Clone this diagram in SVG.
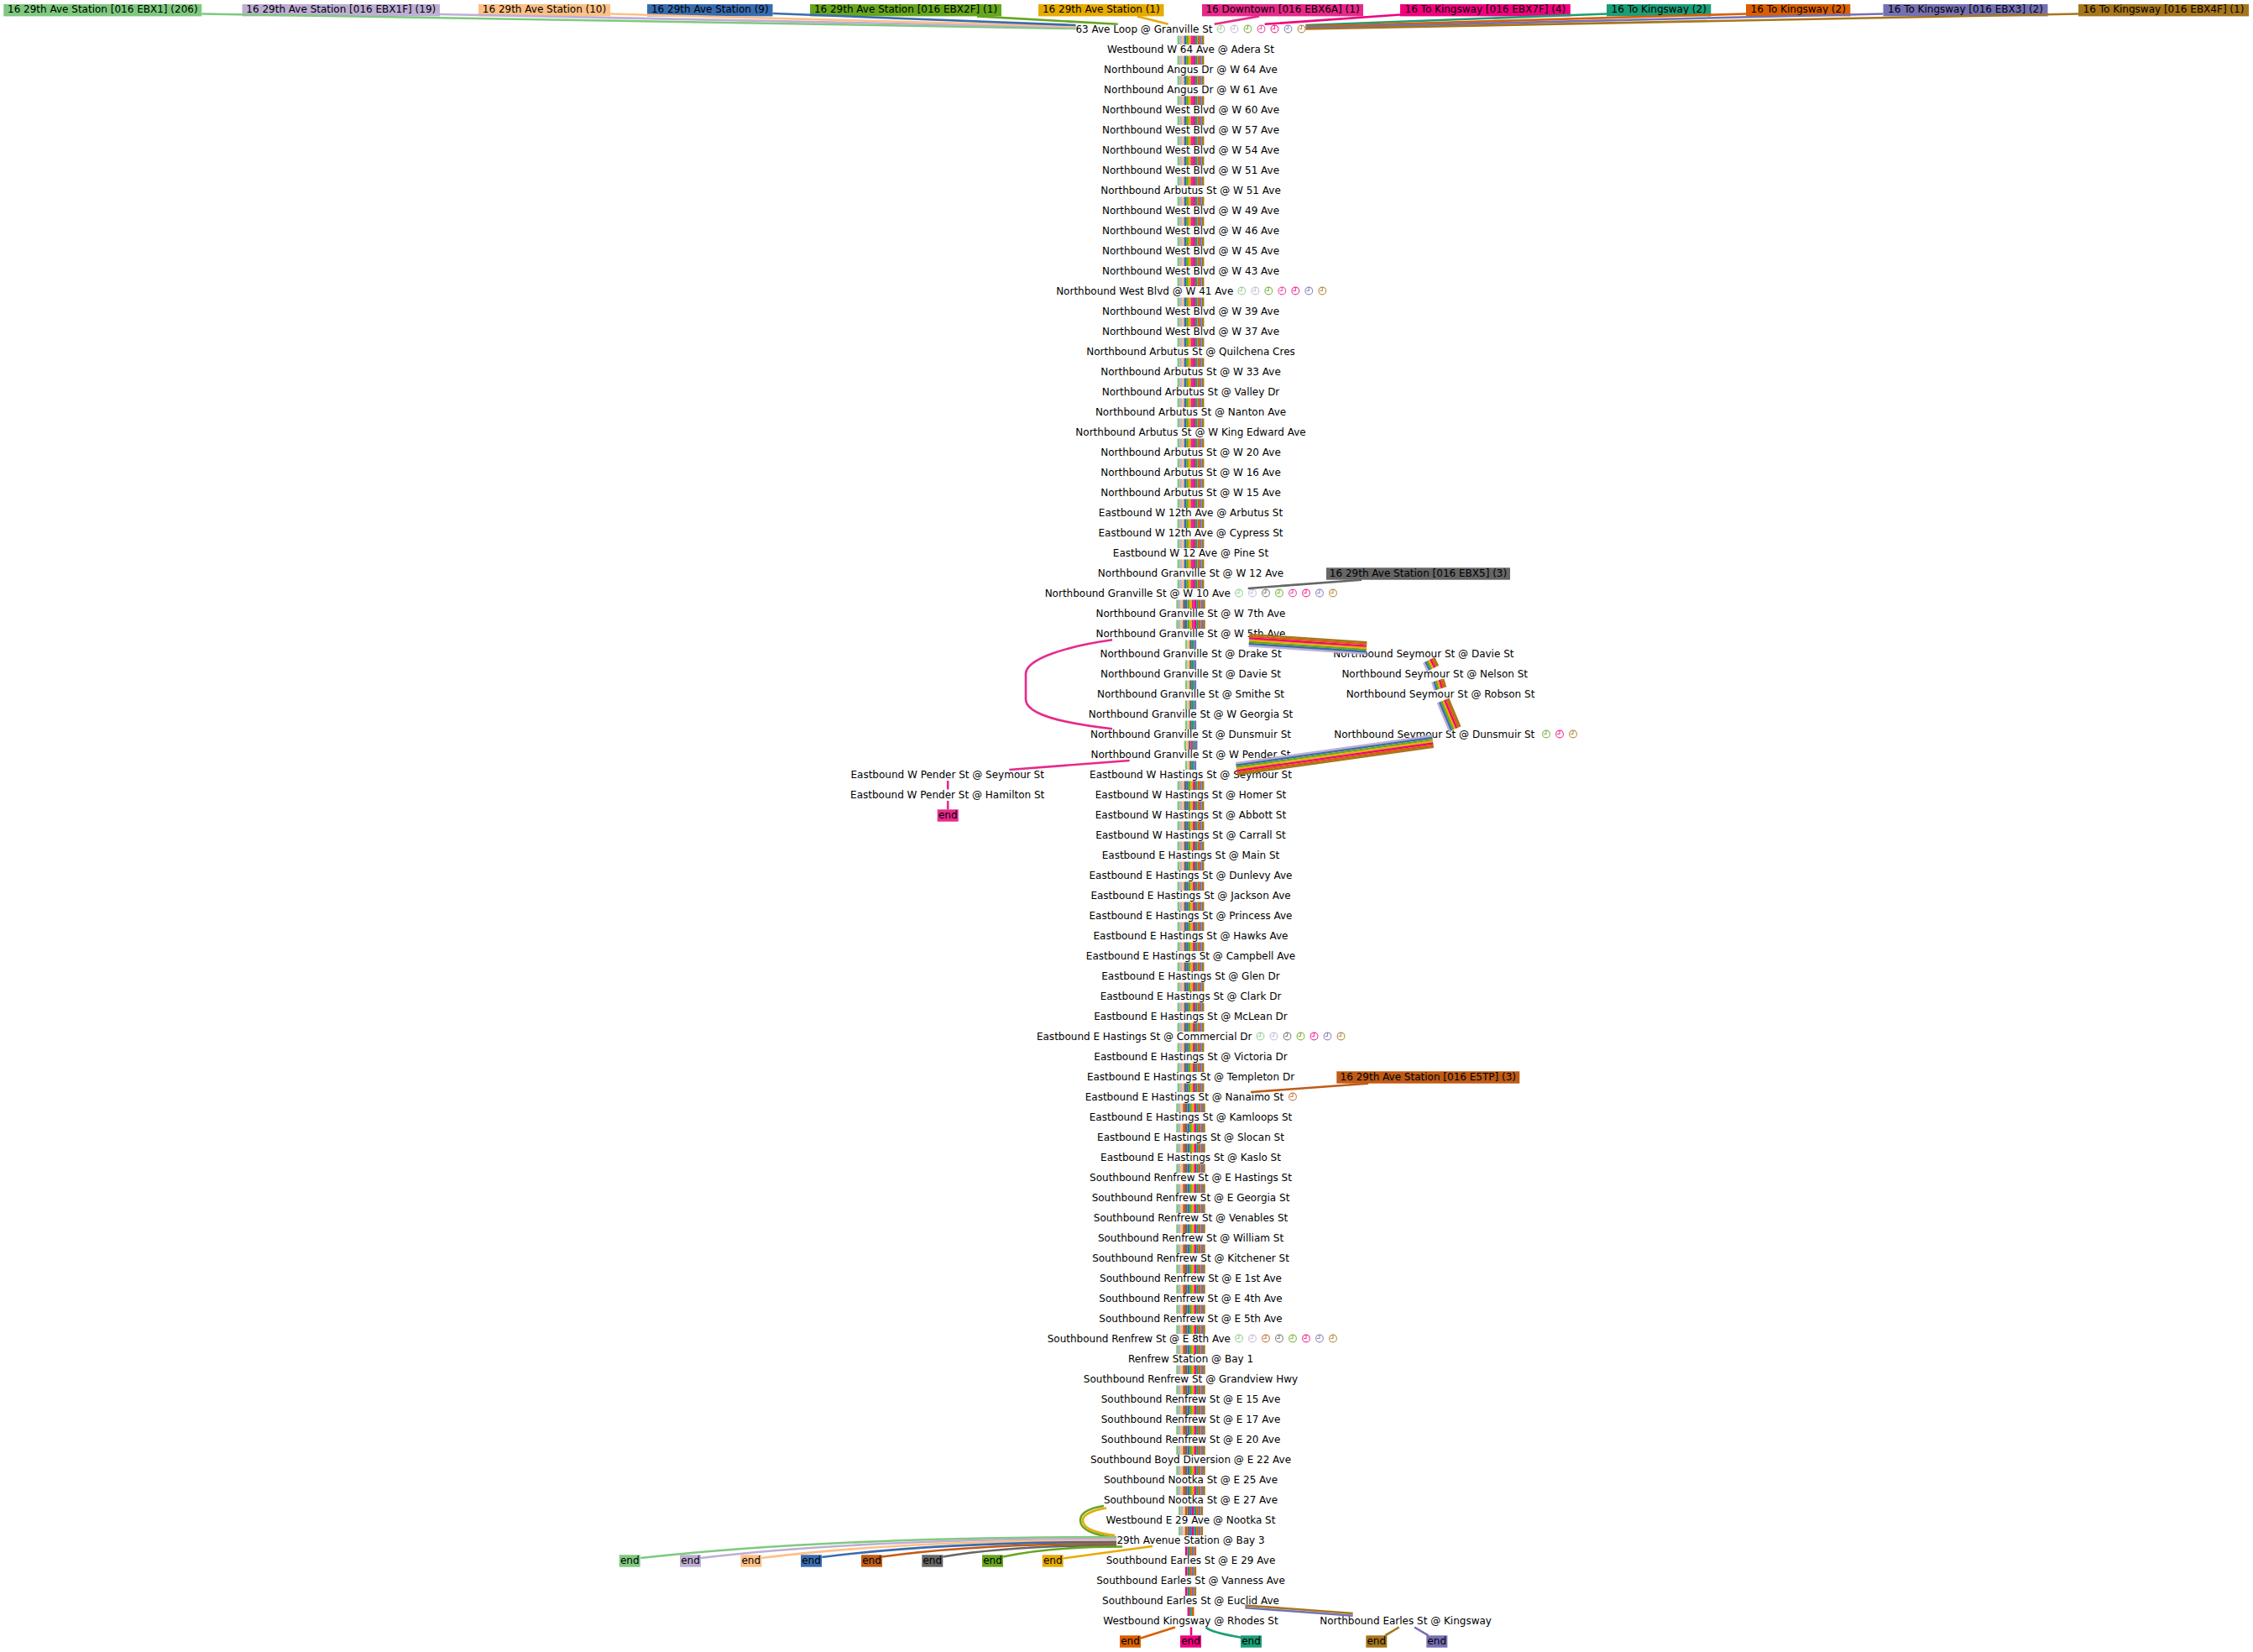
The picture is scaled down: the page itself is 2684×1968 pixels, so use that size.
<svg xmlns="http://www.w3.org/2000/svg" width="2684" height="1968" viewBox="0 0 2684 1968">
<defs>
<style>
.t{font-family:"DejaVu Sans","Liberation Sans",sans-serif;font-size:12px;fill:#000}
.m{text-anchor:middle}.e{text-anchor:end}
.c{fill:none;stroke-width:2.6}
.tr{stroke-width:2.65;stroke-dasharray:10.5 13.5}
.dg{stroke-width:2.4}
.hl{stroke-width:3}
.sa{stroke:#7fc97f}.sb{stroke:#beaed4}.sc{stroke:#fdc086}.sd{stroke:#386cb0}.se{stroke:#66a61e}.sf{stroke:#e6ab02}.sg{stroke:#e7298a}.sh{stroke:#f0027f}.si{stroke:#1b9e77}.sj{stroke:#d95f02}.sk{stroke:#7570b3}.sl{stroke:#a6761d}.sm{stroke:#666666}.sn{stroke:#bf5b17}
.fa{fill:#7fc97f}.fb{fill:#beaed4}.fc{fill:#fdc086}.fd{fill:#386cb0}.fe{fill:#66a61e}.ff{fill:#e6ab02}.fg{fill:#e7298a}.fh{fill:#f0027f}.fi{fill:#1b9e77}.fj{fill:#d95f02}.fk{fill:#7570b3}.fl{fill:#a6761d}.fm{fill:#666666}.fn{fill:#bf5b17}
.ka{color:#7fc97f}.kb{color:#beaed4}.ke{color:#66a61e}.kg{color:#e7298a}.kh{color:#f0027f}.kk{color:#7570b3}.kl{color:#a6761d}.km{color:#666666}.kn{color:#bf5b17}
.ic{opacity:.8}
</style>
<g id="ck" fill="none" stroke="currentColor" stroke-width="1.1"><circle r="4.4"/><path d="M0,-4.4V0H-3"/></g>
</defs>
<rect width="2684" height="1968" fill="#fff"/>

<g id="sources">
<g id="src-ebx1"><rect class="fa" x="4.3" y="5" width="236" height="14.4"/><text class="t m" x="122.3" y="15.2">16 29th Ave Station [016 EBX1] (206)</text></g>
<g id="src-ebx1f"><rect class="fb" x="288.5" y="5" width="235.5" height="14.4"/><text class="t m" x="406.3" y="15.2">16 29th Ave Station [016 EBX1F] (19)</text></g>
<g id="src-r10"><rect class="fc" x="570" y="5" width="157" height="14.4"/><text class="t m" x="648.5" y="15.2">16 29th Ave Station (10)</text></g>
<g id="src-r9"><rect class="fd" x="771" y="5" width="149.5" height="14.4"/><text class="t m" x="845.8" y="15.2">16 29th Ave Station (9)</text></g>
<g id="src-ebx2f"><rect class="fe" x="965" y="5" width="228" height="14.4"/><text class="t m" x="1079" y="15.2">16 29th Ave Station [016 EBX2F] (1)</text></g>
<g id="src-r1"><rect class="ff" x="1237" y="5" width="149.5" height="14.4"/><text class="t m" x="1311.8" y="15.2">16 29th Ave Station (1)</text></g>
<g id="src-ebx6a"><rect class="fg" x="1432" y="5" width="192" height="14.4"/><text class="t m" x="1528" y="15.2">16 Downtown [016 EBX6A] (1)</text></g>
<g id="src-ebx7f"><rect class="fh" x="1668" y="5" width="202.8" height="14.4"/><text class="t m" x="1769.4" y="15.2">16 To Kingsway [016 EBX7F] (4)</text></g>
<g id="src-t2"><rect class="fi" x="1914" y="5" width="124.3" height="14.4"/><text class="t m" x="1976.2" y="15.2">16 To Kingsway (2)</text></g>
<g id="src-o2"><rect class="fj" x="2080" y="5" width="124.3" height="14.4"/><text class="t m" x="2142.2" y="15.2">16 To Kingsway (2)</text></g>
<g id="src-ebx3"><rect class="fk" x="2243.5" y="5" width="196" height="14.4"/><text class="t m" x="2341.5" y="15.2">16 To Kingsway [016 EBX3] (2)</text></g>
<g id="src-ebx4f"><rect class="fl" x="2476" y="5" width="203" height="14.4"/><text class="t m" x="2577.5" y="15.2">16 To Kingsway [016 EBX4F] (1)</text></g>
<g id="src-ebx5"><rect class="fm" x="1580" y="676.3" width="219" height="14.4"/><text class="t m" x="1689.5" y="686.5">16 29th Ave Station [016 EBX5] (3)</text></g>
<g id="src-e5tp"><rect class="fn" x="1592.3" y="1276.3" width="218" height="14.4"/><text class="t m" x="1701.3" y="1286.5">16 29th Ave Station [016 E5TP] (3)</text></g>
</g>

<g id="stops">
<g id="stop-00"><text class="t e" x="1444.5" y="38.5">63 Ave Loop @ Granville St</text><use href="#ck" x="1454.5" y="34.5" class="ka ic"/><use href="#ck" x="1470.5" y="34.5" class="kb ic"/><use href="#ck" x="1486.5" y="34.5" class="ke ic"/><use href="#ck" x="1502.5" y="34.5" class="kg ic"/><use href="#ck" x="1518.5" y="34.5" class="kh ic"/><use href="#ck" x="1534.5" y="34.5" class="kk ic"/><use href="#ck" x="1550.5" y="34.5" class="kl ic"/></g>
<g id="stop-01"><text class="t m" x="1418.5" y="62.5">Westbound W 64 Ave @ Adera St</text></g>
<g id="stop-02"><text class="t m" x="1418.5" y="86.5">Northbound Angus Dr @ W 64 Ave</text></g>
<g id="stop-03"><text class="t m" x="1418.5" y="110.5">Northbound Angus Dr @ W 61 Ave</text></g>
<g id="stop-04"><text class="t m" x="1418.5" y="134.5">Northbound West Blvd @ W 60 Ave</text></g>
<g id="stop-05"><text class="t m" x="1418.5" y="158.5">Northbound West Blvd @ W 57 Ave</text></g>
<g id="stop-06"><text class="t m" x="1418.5" y="182.5">Northbound West Blvd @ W 54 Ave</text></g>
<g id="stop-07"><text class="t m" x="1418.5" y="206.5">Northbound West Blvd @ W 51 Ave</text></g>
<g id="stop-08"><text class="t m" x="1418.5" y="230.5">Northbound Arbutus St @ W 51 Ave</text></g>
<g id="stop-09"><text class="t m" x="1418.5" y="254.5">Northbound West Blvd @ W 49 Ave</text></g>
<g id="stop-10"><text class="t m" x="1418.5" y="278.5">Northbound West Blvd @ W 46 Ave</text></g>
<g id="stop-11"><text class="t m" x="1418.5" y="302.5">Northbound West Blvd @ W 45 Ave</text></g>
<g id="stop-12"><text class="t m" x="1418.5" y="326.5">Northbound West Blvd @ W 43 Ave</text></g>
<g id="stop-13"><text class="t e" x="1469.3" y="350.5">Northbound West Blvd @ W 41 Ave</text><use href="#ck" x="1479.3" y="346.5" class="ka ic"/><use href="#ck" x="1495.3" y="346.5" class="kb ic"/><use href="#ck" x="1511.3" y="346.5" class="ke ic"/><use href="#ck" x="1527.3" y="346.5" class="kg ic"/><use href="#ck" x="1543.3" y="346.5" class="kh ic"/><use href="#ck" x="1559.3" y="346.5" class="kk ic"/><use href="#ck" x="1575.3" y="346.5" class="kl ic"/></g>
<g id="stop-14"><text class="t m" x="1418.5" y="374.5">Northbound West Blvd @ W 39 Ave</text></g>
<g id="stop-15"><text class="t m" x="1418.5" y="398.5">Northbound West Blvd @ W 37 Ave</text></g>
<g id="stop-16"><text class="t m" x="1418.5" y="422.5">Northbound Arbutus St @ Quilchena Cres</text></g>
<g id="stop-17"><text class="t m" x="1418.5" y="446.5">Northbound Arbutus St @ W 33 Ave</text></g>
<g id="stop-18"><text class="t m" x="1418.5" y="470.5">Northbound Arbutus St @ Valley Dr</text></g>
<g id="stop-19"><text class="t m" x="1418.5" y="494.5">Northbound Arbutus St @ Nanton Ave</text></g>
<g id="stop-20"><text class="t m" x="1418.5" y="518.5">Northbound Arbutus St @ W King Edward Ave</text></g>
<g id="stop-21"><text class="t m" x="1418.5" y="542.5">Northbound Arbutus St @ W 20 Ave</text></g>
<g id="stop-22"><text class="t m" x="1418.5" y="566.5">Northbound Arbutus St @ W 16 Ave</text></g>
<g id="stop-23"><text class="t m" x="1418.5" y="590.5">Northbound Arbutus St @ W 15 Ave</text></g>
<g id="stop-24"><text class="t m" x="1418.5" y="614.5">Eastbound W 12th Ave @ Arbutus St</text></g>
<g id="stop-25"><text class="t m" x="1418.5" y="638.5">Eastbound W 12th Ave @ Cypress St</text></g>
<g id="stop-26"><text class="t m" x="1418.5" y="662.5">Eastbound W 12 Ave @ Pine St</text></g>
<g id="stop-27"><text class="t m" x="1418.5" y="686.5">Northbound Granville St @ W 12 Ave</text></g>
<g id="stop-28"><text class="t e" x="1466" y="710.5">Northbound Granville St @ W 10 Ave</text><use href="#ck" x="1476" y="706.5" class="ka ic"/><use href="#ck" x="1492" y="706.5" class="kb ic"/><use href="#ck" x="1508" y="706.5" class="km ic"/><use href="#ck" x="1524" y="706.5" class="ke ic"/><use href="#ck" x="1540" y="706.5" class="kg ic"/><use href="#ck" x="1556" y="706.5" class="kh ic"/><use href="#ck" x="1572" y="706.5" class="kk ic"/><use href="#ck" x="1588" y="706.5" class="kl ic"/></g>
<g id="stop-29"><text class="t m" x="1418.5" y="734.5">Northbound Granville St @ W 7th Ave</text></g>
<g id="stop-30"><text class="t m" x="1418.5" y="758.5">Northbound Granville St @ W 5th Ave</text></g>
<g id="stop-31"><text class="t m" x="1418.5" y="782.5">Northbound Granville St @ Drake St</text></g>
<g id="stop-32"><text class="t m" x="1418.5" y="806.5">Northbound Granville St @ Davie St</text></g>
<g id="stop-33"><text class="t m" x="1418.5" y="830.5">Northbound Granville St @ Smithe St</text></g>
<g id="stop-34"><text class="t m" x="1418.5" y="854.5">Northbound Granville St @ W Georgia St</text></g>
<g id="stop-35"><text class="t m" x="1418.5" y="878.5">Northbound Granville St @ Dunsmuir St</text></g>
<g id="stop-36"><text class="t m" x="1418.5" y="902.5">Northbound Granville St @ W Pender St</text></g>
<g id="stop-37"><text class="t m" x="1418.5" y="926.5">Eastbound W Hastings St @ Seymour St</text></g>
<g id="stop-38"><text class="t m" x="1418.5" y="950.5">Eastbound W Hastings St @ Homer St</text></g>
<g id="stop-39"><text class="t m" x="1418.5" y="974.5">Eastbound W Hastings St @ Abbott St</text></g>
<g id="stop-40"><text class="t m" x="1418.5" y="998.5">Eastbound W Hastings St @ Carrall St</text></g>
<g id="stop-41"><text class="t m" x="1418.5" y="1022.5">Eastbound E Hastings St @ Main St</text></g>
<g id="stop-42"><text class="t m" x="1418.5" y="1046.5">Eastbound E Hastings St @ Dunlevy Ave</text></g>
<g id="stop-43"><text class="t m" x="1418.5" y="1070.5">Eastbound E Hastings St @ Jackson Ave</text></g>
<g id="stop-44"><text class="t m" x="1418.5" y="1094.5">Eastbound E Hastings St @ Princess Ave</text></g>
<g id="stop-45"><text class="t m" x="1418.5" y="1118.5">Eastbound E Hastings St @ Hawks Ave</text></g>
<g id="stop-46"><text class="t m" x="1418.5" y="1142.5">Eastbound E Hastings St @ Campbell Ave</text></g>
<g id="stop-47"><text class="t m" x="1418.5" y="1166.5">Eastbound E Hastings St @ Glen Dr</text></g>
<g id="stop-48"><text class="t m" x="1418.5" y="1190.5">Eastbound E Hastings St @ Clark Dr</text></g>
<g id="stop-49"><text class="t m" x="1418.5" y="1214.5">Eastbound E Hastings St @ McLean Dr</text></g>
<g id="stop-50"><text class="t e" x="1491.5" y="1238.5">Eastbound E Hastings St @ Commercial Dr</text><use href="#ck" x="1501.5" y="1234.5" class="ka ic"/><use href="#ck" x="1517.5" y="1234.5" class="kb ic"/><use href="#ck" x="1533.5" y="1234.5" class="km ic"/><use href="#ck" x="1549.5" y="1234.5" class="ke ic"/><use href="#ck" x="1565.5" y="1234.5" class="kh ic"/><use href="#ck" x="1581.5" y="1234.5" class="kk ic"/><use href="#ck" x="1597.5" y="1234.5" class="kl ic"/></g>
<g id="stop-51"><text class="t m" x="1418.5" y="1262.5">Eastbound E Hastings St @ Victoria Dr</text></g>
<g id="stop-52"><text class="t m" x="1418.5" y="1286.5">Eastbound E Hastings St @ Templeton Dr</text></g>
<g id="stop-53"><text class="t e" x="1529.3" y="1310.5">Eastbound E Hastings St @ Nanaimo St</text><use href="#ck" x="1540" y="1306.5" class="kn ic"/></g>
<g id="stop-54"><text class="t m" x="1418.5" y="1334.5">Eastbound E Hastings St @ Kamloops St</text></g>
<g id="stop-55"><text class="t m" x="1418.5" y="1358.5">Eastbound E Hastings St @ Slocan St</text></g>
<g id="stop-56"><text class="t m" x="1418.5" y="1382.5">Eastbound E Hastings St @ Kaslo St</text></g>
<g id="stop-57"><text class="t m" x="1418.5" y="1406.5">Southbound Renfrew St @ E Hastings St</text></g>
<g id="stop-58"><text class="t m" x="1418.5" y="1430.5">Southbound Renfrew St @ E Georgia St</text></g>
<g id="stop-59"><text class="t m" x="1418.5" y="1454.5">Southbound Renfrew St @ Venables St</text></g>
<g id="stop-60"><text class="t m" x="1418.5" y="1478.5">Southbound Renfrew St @ William St</text></g>
<g id="stop-61"><text class="t m" x="1418.5" y="1502.5">Southbound Renfrew St @ Kitchener St</text></g>
<g id="stop-62"><text class="t m" x="1418.5" y="1526.5">Southbound Renfrew St @ E 1st Ave</text></g>
<g id="stop-63"><text class="t m" x="1418.5" y="1550.5">Southbound Renfrew St @ E 4th Ave</text></g>
<g id="stop-64"><text class="t m" x="1418.5" y="1574.5">Southbound Renfrew St @ E 5th Ave</text></g>
<g id="stop-65"><text class="t e" x="1466" y="1598.5">Southbound Renfrew St @ E 8th Ave</text><use href="#ck" x="1476" y="1594.5" class="ka ic"/><use href="#ck" x="1492" y="1594.5" class="kb ic"/><use href="#ck" x="1508" y="1594.5" class="kn ic"/><use href="#ck" x="1524" y="1594.5" class="km ic"/><use href="#ck" x="1540" y="1594.5" class="ke ic"/><use href="#ck" x="1556" y="1594.5" class="kh ic"/><use href="#ck" x="1572" y="1594.5" class="kk ic"/><use href="#ck" x="1588" y="1594.5" class="kl ic"/></g>
<g id="stop-66"><text class="t m" x="1418.5" y="1622.5">Renfrew Station @ Bay 1</text></g>
<g id="stop-67"><text class="t m" x="1418.5" y="1646.5">Southbound Renfrew St @ Grandview Hwy</text></g>
<g id="stop-68"><text class="t m" x="1418.5" y="1670.5">Southbound Renfrew St @ E 15 Ave</text></g>
<g id="stop-69"><text class="t m" x="1418.5" y="1694.5">Southbound Renfrew St @ E 17 Ave</text></g>
<g id="stop-70"><text class="t m" x="1418.5" y="1718.5">Southbound Renfrew St @ E 20 Ave</text></g>
<g id="stop-71"><text class="t m" x="1418.5" y="1742.5">Southbound Boyd Diversion @ E 22 Ave</text></g>
<g id="stop-72"><text class="t m" x="1418.5" y="1766.5">Southbound Nootka St @ E 25 Ave</text></g>
<g id="stop-73"><text class="t m" x="1418.5" y="1790.5">Southbound Nootka St @ E 27 Ave</text></g>
<g id="stop-74"><text class="t m" x="1418.5" y="1814.5">Westbound E 29 Ave @ Nootka St</text></g>
<g id="stop-75"><text class="t m" x="1418.5" y="1838.5">29th Avenue Station @ Bay 3</text></g>
<g id="stop-76"><text class="t m" x="1418.5" y="1862.5">Southbound Earles St @ E 29 Ave</text></g>
<g id="stop-77"><text class="t m" x="1418.5" y="1886.5">Southbound Earles St @ Vanness Ave</text></g>
<g id="stop-78"><text class="t m" x="1418.5" y="1910.5">Southbound Earles St @ Euclid Ave</text></g>
<g id="stop-79"><text class="t m" x="1418.5" y="1934.5">Westbound Kingsway @ Rhodes St</text></g>
<g id="stop-sey-davie"><text class="t m" x="1695.9" y="782.5">Northbound Seymour St @ Davie St</text></g>
<g id="stop-sey-nelson"><text class="t m" x="1709.2" y="806.5">Northbound Seymour St @ Nelson St</text></g>
<g id="stop-sey-robson"><text class="t m" x="1716" y="830.5">Northbound Seymour St @ Robson St</text></g>
<g id="stop-sey-dunsmuir"><text class="t" x="1589.3" y="878.5">Northbound Seymour St @ Dunsmuir St</text><use href="#ck" x="1842" y="874.5" class="ke ic"/><use href="#ck" x="1858" y="874.5" class="kh ic"/><use href="#ck" x="1874" y="874.5" class="kl ic"/></g>
<g id="stop-pender-seymour"><text class="t m" x="1128.7" y="926.5">Eastbound W Pender St @ Seymour St</text></g>
<g id="stop-pender-hamilton"><text class="t m" x="1128.7" y="950.5">Eastbound W Pender St @ Hamilton St</text></g>
<g id="stop-earles-kingsway"><text class="t m" x="1674.6" y="1934.5">Northbound Earles St @ Kingsway</text></g>
</g>

<g id="ends">
<g id="end-ebx6a"><rect class="fg" x="1116.7" y="964.3" width="25" height="14.4"/><text class="t m" x="1129.2" y="974.5">end</text></g>
<g id="end-ebx1"><rect class="fa" x="737.7" y="1852.3" width="25" height="14.4"/><text class="t m" x="750.2" y="1862.5">end</text></g>
<g id="end-ebx1f"><rect class="fb" x="810" y="1852.3" width="25" height="14.4"/><text class="t m" x="822.5" y="1862.5">end</text></g>
<g id="end-r10"><rect class="fc" x="882.3" y="1852.3" width="25" height="14.4"/><text class="t m" x="894.8" y="1862.5">end</text></g>
<g id="end-r9"><rect class="fd" x="954" y="1852.3" width="25" height="14.4"/><text class="t m" x="966.5" y="1862.5">end</text></g>
<g id="end-e5tp"><rect class="fn" x="1026" y="1852.3" width="25" height="14.4"/><text class="t m" x="1038.5" y="1862.5">end</text></g>
<g id="end-ebx5"><rect class="fm" x="1098.3" y="1852.3" width="25" height="14.4"/><text class="t m" x="1110.8" y="1862.5">end</text></g>
<g id="end-ebx2f"><rect class="fe" x="1170" y="1852.3" width="25" height="14.4"/><text class="t m" x="1182.5" y="1862.5">end</text></g>
<g id="end-r1"><rect class="ff" x="1241.7" y="1852.3" width="25" height="14.4"/><text class="t m" x="1254.2" y="1862.5">end</text></g>
<g id="end-o2"><rect class="fj" x="1334" y="1948.3" width="25" height="14.4"/><text class="t m" x="1346.5" y="1958.5">end</text></g>
<g id="end-ebx7f"><rect class="fh" x="1406" y="1948.3" width="25" height="14.4"/><text class="t m" x="1418.5" y="1958.5">end</text></g>
<g id="end-t2"><rect class="fi" x="1478" y="1948.3" width="25" height="14.4"/><text class="t m" x="1490.5" y="1958.5">end</text></g>
<g id="end-ebx4f"><rect class="fl" x="1627.3" y="1948.3" width="25" height="14.4"/><text class="t m" x="1639.8" y="1958.5">end</text></g>
<g id="end-ebx3"><rect class="fk" x="1699.3" y="1948.3" width="25" height="14.4"/><text class="t m" x="1711.8" y="1958.5">end</text></g>
</g>

<g id="connectors">
<path class="c sa" d="M240.3,16.5L1281.5,34"/>
<path class="c sb" d="M524,17L1281.5,32.5"/>
<path class="c sc" d="M727,16.5L1281.5,31.5"/>
<path class="c sd" d="M920.5,16L1281.5,30"/>
<path class="c se" d="M1164,19.4L1331.7,28.8"/>
<path class="c sf" d="M1355,19.4L1391.7,28.8"/>
<path class="c sg" d="M1500,19.4L1446.7,28.8"/>
<path class="c sh" d="M1668,17.5L1506.7,28.8"/>
<path class="c si" d="M1914,16.5L1555.5,30"/>
<path class="c sj" d="M2080,16.5L1555.5,31.5"/>
<path class="c sk" d="M2243.5,16.5L1555.5,33"/>
<path class="c sl" d="M2476,16.5L1555.5,34.5"/>
<path class="c sm" d="M1622,690.7L1486.7,701"/>
<path class="c sn" d="M1630,1290.7L1490,1301"/>

<path class="c tr sa" d="M1403.9,42.5V701"/><path class="c tr sb" d="M1406.6,42.5V701"/><path class="c tr sc" d="M1409.2,42.5V701"/><path class="c tr sd" d="M1411.9,42.5V701"/><path class="c tr se" d="M1414.5,42.5V701"/><path class="c tr sf" d="M1417.2,42.5V701"/><path class="c tr sg" d="M1419.8,42.5V701"/><path class="c tr sh" d="M1422.5,42.5V701"/><path class="c tr si" d="M1425.1,42.5V701"/><path class="c tr sj" d="M1427.8,42.5V701"/><path class="c tr sk" d="M1430.4,42.5V701"/><path class="c tr sl" d="M1433.1,42.5V701"/>
<path class="c tr sa" d="M1402.6,714.5V749"/><path class="c tr sb" d="M1405.3,714.5V749"/><path class="c tr sc" d="M1407.9,714.5V749"/><path class="c tr sm" d="M1410.6,714.5V749"/><path class="c tr sd" d="M1413.2,714.5V749"/><path class="c tr se" d="M1415.9,714.5V749"/><path class="c tr sf" d="M1418.5,714.5V749"/><path class="c tr sg" d="M1421.2,714.5V749"/><path class="c tr sh" d="M1423.8,714.5V749"/><path class="c tr si" d="M1426.5,714.5V749"/><path class="c tr sj" d="M1429.1,714.5V749"/><path class="c tr sk" d="M1431.8,714.5V749"/><path class="c tr sl" d="M1434.4,714.5V749"/>
<path class="c tr sa" d="M1413.2,762.5V869"/><path class="c tr sc" d="M1415.9,762.5V869"/><path class="c tr sm" d="M1418.5,762.5V869"/><path class="c tr si" d="M1421.2,762.5V869"/><path class="c tr sk" d="M1423.8,762.5V869"/>
<path class="c tr sa" d="M1411.9,882.5V893"/><path class="c tr sc" d="M1414.5,882.5V893"/><path class="c tr sm" d="M1417.2,882.5V893"/><path class="c tr sg" d="M1419.8,882.5V893"/><path class="c tr si" d="M1422.5,882.5V893"/><path class="c tr sk" d="M1425.1,882.5V893"/>
<path class="c tr sa" d="M1413.2,906.5V917"/><path class="c tr sc" d="M1415.9,906.5V917"/><path class="c tr sm" d="M1418.5,906.5V917"/><path class="c tr si" d="M1421.2,906.5V917"/><path class="c tr sk" d="M1423.8,906.5V917"/>
<path class="c tr sa" d="M1403.9,930.5V1301"/><path class="c tr sb" d="M1406.6,930.5V1301"/><path class="c tr sc" d="M1409.2,930.5V1301"/><path class="c tr sm" d="M1411.9,930.5V1301"/><path class="c tr sd" d="M1414.5,930.5V1301"/><path class="c tr se" d="M1417.2,930.5V1301"/><path class="c tr sf" d="M1419.8,930.5V1301"/><path class="c tr sh" d="M1422.5,930.5V1301"/><path class="c tr si" d="M1425.1,930.5V1301"/><path class="c tr sj" d="M1427.8,930.5V1301"/><path class="c tr sk" d="M1430.4,930.5V1301"/><path class="c tr sl" d="M1433.1,930.5V1301"/>
<path class="c tr sa" d="M1402.6,1314.5V1781"/><path class="c tr sb" d="M1405.3,1314.5V1781"/><path class="c tr sc" d="M1407.9,1314.5V1781"/><path class="c tr sn" d="M1410.6,1314.5V1781"/><path class="c tr sm" d="M1413.2,1314.5V1781"/><path class="c tr sd" d="M1415.9,1314.5V1781"/><path class="c tr se" d="M1418.5,1314.5V1781"/><path class="c tr sf" d="M1421.2,1314.5V1781"/><path class="c tr sh" d="M1423.8,1314.5V1781"/><path class="c tr si" d="M1426.5,1314.5V1781"/><path class="c tr sj" d="M1429.1,1314.5V1781"/><path class="c tr sk" d="M1431.8,1314.5V1781"/><path class="c tr sl" d="M1434.4,1314.5V1781"/>
<path class="c tr sa" d="M1405.3,1794.5V1829"/><path class="c tr sb" d="M1407.9,1794.5V1829"/><path class="c tr sc" d="M1410.6,1794.5V1829"/><path class="c tr sn" d="M1413.2,1794.5V1829"/><path class="c tr sm" d="M1415.9,1794.5V1829"/><path class="c tr sd" d="M1418.5,1794.5V1829"/><path class="c tr sh" d="M1421.2,1794.5V1829"/><path class="c tr si" d="M1423.8,1794.5V1829"/><path class="c tr sj" d="M1426.5,1794.5V1829"/><path class="c tr sk" d="M1429.1,1794.5V1829"/><path class="c tr sl" d="M1431.8,1794.5V1829"/>
<path class="c tr sh" d="M1413.2,1842.5V1901"/><path class="c tr si" d="M1415.9,1842.5V1901"/><path class="c tr sj" d="M1418.5,1842.5V1901"/><path class="c tr sk" d="M1421.2,1842.5V1901"/><path class="c tr sl" d="M1423.8,1842.5V1901"/>
<path class="c tr sh" d="M1415.9,1914.5V1925"/><path class="c tr si" d="M1418.5,1914.5V1925"/><path class="c tr sj" d="M1421.2,1914.5V1925"/>

<path class="c hl sb" d="M1487.6,769.1L1627.6,778.4"/>
<path class="c dg sd" d="M1487.7,766.9L1627.7,776.2"/>
<path class="c dg se" d="M1487.9,764.7L1627.9,774"/>
<path class="c dg sf" d="M1488,762.5L1628,771.8"/>
<path class="c dg sh" d="M1488.1,760.3L1628.1,769.6"/>
<path class="c dg sj" d="M1488.3,758.1L1628.3,767.4"/>
<path class="c dg sl" d="M1488.4,755.9L1628.4,765.2"/>
<path class="c hl sb" d="M1696.3,789.3L1701.3,799.2"/>
<path class="c dg sd" d="M1698.3,788.3L1703.3,798.2"/>
<path class="c dg se" d="M1700.2,787.3L1705.2,797.2"/>
<path class="c dg sf" d="M1702.2,786.3L1707.2,796.2"/>
<path class="c dg sh" d="M1704.2,785.3L1709.2,795.2"/>
<path class="c dg sj" d="M1706.1,784.3L1711.1,794.2"/>
<path class="c dg sl" d="M1708.1,783.4L1713.1,793.3"/>
<path class="c hl sb" d="M1706.5,812.4L1709.5,822.4"/>
<path class="c dg sd" d="M1708.6,811.8L1711.6,821.8"/>
<path class="c dg se" d="M1710.7,811.1L1713.7,821.1"/>
<path class="c dg sf" d="M1712.8,810.5L1715.8,820.5"/>
<path class="c dg sh" d="M1714.9,809.9L1717.9,819.9"/>
<path class="c dg sj" d="M1717,809.2L1720,819.2"/>
<path class="c dg sl" d="M1719.1,808.6L1722.1,818.6"/>
<path class="c hl sb" d="M1713.1,837L1727.2,870.8"/>
<path class="c dg sd" d="M1715.1,836.2L1729.2,870"/>
<path class="c dg se" d="M1717.2,835.4L1731.3,869.2"/>
<path class="c dg sf" d="M1719.2,834.5L1733.3,868.3"/>
<path class="c dg sh" d="M1721.2,833.7L1735.3,867.5"/>
<path class="c dg sj" d="M1723.3,832.8L1737.4,866.6"/>
<path class="c dg sl" d="M1725.3,832L1739.4,865.8"/>
<path class="c hl sb" d="M1706.1,876.8L1472.1,909.5"/>
<path class="c dg sd" d="M1706.4,878.9L1472.4,911.6"/>
<path class="c dg se" d="M1706.7,881.1L1472.7,913.8"/>
<path class="c dg sf" d="M1707,883.3L1473,916"/>
<path class="c dg sh" d="M1707.3,885.5L1473.3,918.2"/>
<path class="c dg sj" d="M1707.6,887.7L1473.6,920.4"/>
<path class="c dg sl" d="M1707.9,889.8L1473.9,922.5"/>

<path class="c sg" d="M1325,762.3C1270,770 1222,785 1222,803L1222,833C1222,852 1270,862 1325,868.3"/>
<path class="c sg" d="M1345.7,906L1202.3,917"/>
<path class="c sg" d="M1129.2,930V940.5"/>
<path class="c sg" d="M1129.2,954V964.3"/>

<path class="c se" d="M1315,1794C1296,1797 1287,1803 1287,1811C1287,1822 1301,1828.5 1328,1831.5"/>
<path class="c sf" d="M1318,1796.5C1300,1799.5 1290,1805 1290,1811C1290,1820 1303,1826 1328,1829"/>

<path class="c sa" d="M763.3,1856C876.6,1843.5 1046.7,1831 1330,1831"/>
<path class="c sb" d="M835,1856C934,1844.5 1082.5,1833 1330,1833"/>
<path class="c sc" d="M907.3,1856C991.8,1845.5 1118.7,1835 1330,1835"/>
<path class="c sd" d="M979.3,1855C1049.4,1846 1154.7,1837 1330,1837"/>
<path class="c sn" d="M1051,1854.5C1106.8,1846.8 1190.5,1839 1330,1839"/>
<path class="c sm" d="M1123.3,1854.5C1164.6,1847.8 1226.7,1841 1330,1841"/>
<path class="c se" d="M1195,1854.5C1223.4,1848.5 1266,1842.5 1337,1842.5"/>
<path class="c sf" d="M1266.7,1856.5L1373,1842"/>

<path class="c sl" d="M1483.3,1912.5L1611.7,1922"/>
<path class="c sk" d="M1483.3,1915.3L1611.7,1924.8"/>
<path class="c sl" d="M1666.7,1938.5L1650,1948.3"/>
<path class="c sk" d="M1685,1938.5L1701.7,1948.3"/>
<path class="c sj" d="M1400,1938.5L1359,1951.5"/>
<path class="c sh" d="M1419,1938.5V1948.3"/>
<path class="c si" d="M1436.7,1938.5Q1440,1944 1480,1951"/>
</g>
</svg>
